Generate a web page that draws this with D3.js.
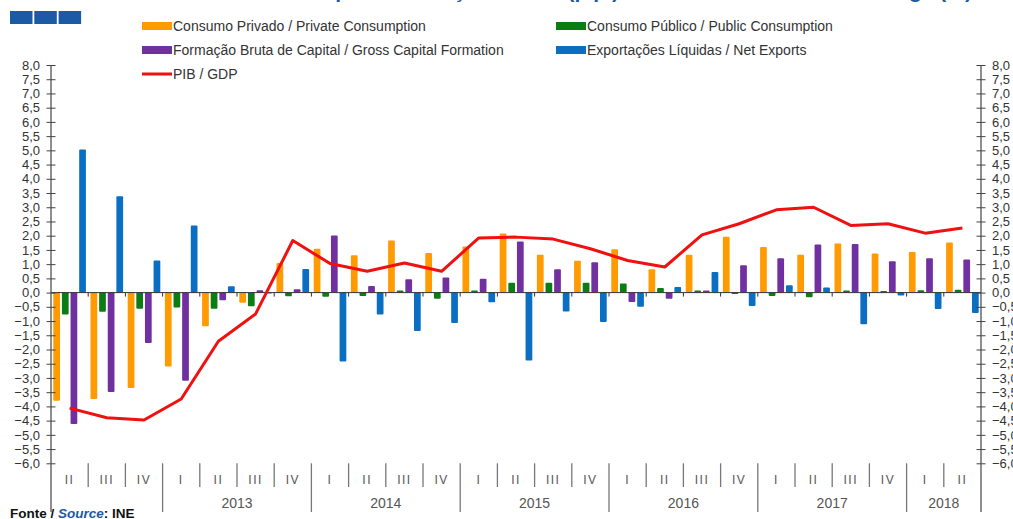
<!DOCTYPE html>
<html>
<head>
<meta charset="utf-8">
<script src="https://cdn.jsdelivr.net/npm/d3@7"></script>
<style>
  body { margin: 0; background: #fff; }
  text { font-family: "Liberation Sans", Arial, sans-serif; }
</style>
</head>
<body>
<div id="chart"></div>
<script>
// quarters from 2012 II to 2018 II
const quarters = ["II", "III", "IV",
  "I", "II", "III", "IV",
  "I", "II", "III", "IV",
  "I", "II", "III", "IV",
  "I", "II", "III", "IV",
  "I", "II", "III", "IV",
  "I", "II"];
const years = ["", "2013", "2014", "2015", "2016", "2017", "2018"];
const quartersPerYear = [3, 4, 4, 4, 4, 4, 2];

const consumoPrivado = [-3.8, -3.74, -3.35, -2.6, -1.18, -0.36, 1.04, 1.54, 1.31, 1.83, 1.39, 1.62, 2.08,
  1.33, 1.12, 1.52, 0.82, 1.33, 1.96, 1.6, 1.33, 1.73, 1.37, 1.43, 1.76];
const consumoPublico = [-0.77, -0.67, -0.57, -0.52, -0.57, -0.48, -0.13, -0.15, -0.12, 0.07, -0.22, 0.07, 0.35,
  0.35, 0.35, 0.32, 0.16, 0.07, -0.05, -0.12, -0.16, 0.07, 0.06, 0.08, 0.1];
const formacaoCapital = [-4.62, -3.49, -1.77, -3.1, -0.27, 0.08, 0.12, 2.01, 0.23, 0.47, 0.53, 0.49, 1.8,
  0.82, 1.07, -0.33, -0.22, 0.07, 0.96, 1.21, 1.69, 1.71, 1.1, 1.21, 1.16];
const exportacoesLiquidas = [5.03, 3.39, 1.13, 2.36, 0.22, -0.03, 0.83, -2.42, -0.77, -1.35, -1.07, -0.34, -2.39,
  -0.66, -1.03, -0.5, 0.2, 0.72, -0.47, 0.26, 0.18, -1.11, -0.1, -0.58, -0.72];
const pib = [-4.06, -4.4, -4.48, -3.74, -1.71, -0.75, 1.83, 1.02, 0.75, 1.04, 0.75, 1.92, 1.95,
  1.88, 1.54, 1.13, 0.9, 2.03, 2.42, 2.91, 3.0, 2.36, 2.42, 2.09, 2.27];

const seriesNames = ["Consumo Privado / Private Consumption", "Consumo Público / Public Consumption",
  "Formação Bruta de Capital / Gross Capital Formation", "Exportações Líquidas / Net Exports"];
const lineName = "PIB / GDP";
const title = "Contributos para a Variação do PIB (p.p.) / Contributions to GDP Change (%)";
const yTicks = d3.range(-6, 8.01, 0.5);

const colors = ["#ff9a00", "#0c7d14", "#7030a0", "#0a6fc2"];
const series = [consumoPrivado, consumoPublico, formacaoCapital, exportacoesLiquidas];

const width = 1013;
const height = 519;
const plotLeft = 51, plotRight = 981, plotTop = 65, plotBottom = 463.3;

const svg = d3.select("#chart").append("svg")
  .attr("width", width)
  .attr("height", height);

const periods = quarters.map((q, i) => i);

const x = d3.scaleBand()
  .domain(periods)
  .range([plotLeft, plotRight])
  .paddingInner(0.1)
  .paddingOuter(0.05);

const xs = d3.scaleBand()
  .domain(d3.range(series.length))
  .range([0, x.bandwidth()])
  .paddingInner(0.22)
  .paddingOuter(0.05);

const y = d3.scaleLinear()
  .domain([-6, 8])
  .range([plotBottom, plotTop]);

// title, cut off at the top of the picture
svg.append("text")
  .attr("x", 972)
  .attr("y", -2)
  .attr("text-anchor", "end")
  .attr("font-size", 21)
  .attr("font-weight", "bold")
  .attr("fill", "#1c5aa6")
  .text(title);

// logo
svg.append("g").selectAll("rect")
  .data([0, 1, 2])
  .join("rect")
    .attr("x", d => 10 + d * 24.3)
    .attr("y", 11)
    .attr("width", 22.5)
    .attr("height", 13)
    .attr("fill", "#1c5aa6");

// bars
series.forEach((vals, s) => {
  svg.append("g")
    .attr("fill", colors[s])
    .selectAll("rect")
    .data(vals)
    .join("rect")
      .attr("x", (d, i) => x(i) + xs(s))
      .attr("y", d => y(Math.max(0, d)))
      .attr("width", xs.bandwidth())
      .attr("height", d => Math.abs(y(d) - y(0)))
      .attr("rx", 1);
});

// zero line with quarter ticks
const boundary = i => x(i) - x.step() * x.paddingInner() / 2;
svg.append("line")
  .attr("x1", plotLeft).attr("x2", plotRight)
  .attr("y1", y(0)).attr("y2", y(0))
  .attr("stroke", "#333").attr("stroke-width", 1);
svg.append("g").selectAll("line")
  .data(periods.slice(1))
  .join("line")
    .attr("x1", d => boundary(d)).attr("x2", d => boundary(d))
    .attr("y1", y(0)).attr("y2", y(0) + 4)
    .attr("stroke", "#333");

// GDP line
svg.append("path")
  .datum(pib)
  .attr("fill", "none")
  .attr("stroke", "#f01010")
  .attr("stroke-width", 3)
  .attr("stroke-linejoin", "round")
  .attr("d", d3.line().x((d, i) => x(i) + x.bandwidth() / 2).y(d => y(d)));

// value axes
const fmt = d => d3.format(".1f")(d).replace(".", ",");

function yAxisLeft(g) {
  g.attr("transform", `translate(${plotLeft},0)`)
    .call(d3.axisLeft(y).tickValues(yTicks).tickFormat(fmt).tickSizeInner(4.5).tickSizeOuter(0).tickPadding(6.5))
    .call(g => g.select(".domain").remove())
    .call(g => g.selectAll(".tick line").attr("x1", 4.5).attr("stroke", "#444"))
    .attr("font-size", 13)
    .attr("font-family", "Liberation Sans, Arial, sans-serif")
    .attr("color", "#333");
}

function yAxisRight(g) {
  g.attr("transform", `translate(${plotRight},0)`)
    .call(d3.axisRight(y).tickValues(yTicks).tickFormat(fmt).tickSizeInner(4.5).tickSizeOuter(0).tickPadding(6.5))
    .call(g => g.select(".domain").remove())
    .call(g => g.selectAll(".tick line").attr("x1", -4.5).attr("stroke", "#444"))
    .attr("font-size", 13)
    .attr("font-family", "Liberation Sans, Arial, sans-serif")
    .attr("color", "#333");
}

svg.append("g").call(yAxisLeft);
svg.append("g").call(yAxisRight);

[plotLeft, plotRight].forEach(ax => {
  svg.append("line")
    .attr("x1", ax).attr("x2", ax)
    .attr("y1", plotTop).attr("y2", 512)
    .attr("stroke", "#444").attr("stroke-width", 1.2);
});

// category axis: quarters and years
const yearStart = d3.cumsum([0].concat(quartersPerYear)).slice(0, years.length);
const isYearStart = new Set(yearStart);

svg.append("g").selectAll("line")
  .data(periods.slice(1))
  .join("line")
    .attr("x1", d => boundary(d)).attr("x2", d => boundary(d))
    .attr("y1", plotBottom)
    .attr("y2", d => isYearStart.has(d) ? 512 : 487)
    .attr("stroke", "#777").attr("stroke-width", 1.3);

svg.append("g").selectAll("text")
  .data(quarters)
  .join("text")
    .attr("x", (d, i) => x(i) + x.bandwidth() / 2)
    .attr("y", 484)
    .attr("text-anchor", "middle")
    .attr("font-size", 12)
    .attr("letter-spacing", 1.5)
    .attr("fill", "#555")
    .text(d => d);

svg.append("g").selectAll("text")
  .data(years)
  .join("text")
    .attr("x", (d, i) => {
      const a = yearStart[i], b = a + quartersPerYear[i] - 1;
      return (x(a) + x(b) + x.bandwidth()) / 2;
    })
    .attr("y", 508)
    .attr("text-anchor", "middle")
    .attr("font-size", 14)
    .attr("fill", "#555")
    .text(d => d);

// legend
const legendPos = [[142, 26], [556, 26], [142, 50], [556, 50]];
const legend = svg.append("g");
seriesNames.forEach((name, s) => {
  const [lx, ly] = legendPos[s];
  legend.append("rect")
    .attr("x", lx).attr("y", ly - 4)
    .attr("width", 30).attr("height", 8)
    .attr("fill", colors[s]);
  legend.append("text")
    .attr("x", lx + 31).attr("y", ly + 4.5)
    .attr("font-size", 14)
    .attr("fill", "#333")
    .text(name);
});
legend.append("line")
  .attr("x1", 142).attr("x2", 172)
  .attr("y1", 74).attr("y2", 74)
  .attr("stroke", "#f01010").attr("stroke-width", 3);
legend.append("text")
  .attr("x", 173).attr("y", 78.5)
  .attr("font-size", 14)
  .attr("fill", "#333")
  .text(lineName);

// source
const src = svg.append("text")
  .attr("x", 10).attr("y", 518)
  .attr("font-size", 13.5)
  .attr("font-weight", "bold")
  .attr("fill", "#111");
src.append("tspan").text("Fonte / ");
src.append("tspan").attr("font-style", "italic").attr("fill", "#1c5aa6").text("Source");
src.append("tspan").text(": INE");
</script>
</body>
</html>
